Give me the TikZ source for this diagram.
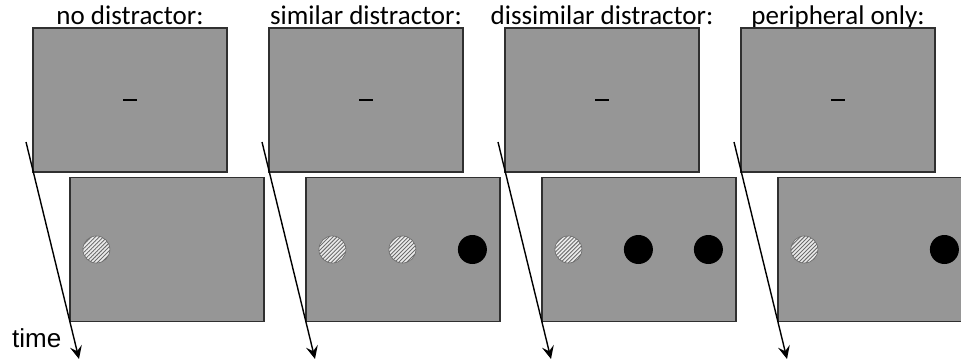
\documentclass[tikz,border=0pt]{standalone}
\usepackage{fontspec}
\setmainfont{Carlito}
\newfontfamily\timefont{Liberation Sans}
\usetikzlibrary{arrows.meta,patterns.meta,calc}
\definecolor{panelgray}{HTML}{969696}
\definecolor{edgegray}{HTML}{303030}
\tikzset{
  panel/.style={draw=edgegray, line width=1.2pt, fill=panelgray, minimum width=194pt, minimum height=144pt, inner sep=0pt, rectangle},
  header/.style={font=\fontsize{27}{30}\selectfont, anchor=base, inner sep=0pt},
  hatch/.style={circle, minimum size=27pt, inner sep=0pt, draw=gray!80!black, line width=0.6pt, fill=gray!15,
    postaction={pattern={Lines[angle=45,distance=2.8pt,line width=0.9pt]}, pattern color=gray!85!black}},
  solid dot/.style={circle, minimum size=29pt, inner sep=0pt, fill=black},
  fix/.style={line width=2pt, black},
  timearrow/.style={line width=1.4pt, -{Stealth[length=13pt,width=12pt,inset=5pt]}},
}
\begin{document}
\begin{tikzpicture}[x=1pt,y=-1pt]
\useasboundingbox (0,0) rectangle (961,364);
\clip (0,0) rectangle (961,364);
\foreach \i/\lab in {0/no distractor:,1/similar distractor:,2/dissimilar distractor:,3/peripheral only:}{
  \node[header] (h\i) at ({130+236*\i},24) {\lab};
  \node[panel] (t\i) at ({130+236*\i},100) {};
  \node[panel] (b\i) at ({167+236*\i},249.5) {};
  \draw[fix] ($(t\i.center)+(-7,0)$) -- ($(t\i.center)+(7,0)$);
  \node[hatch] (c\i a) at ($(b\i.west)+(27,0)$) {};
  \coordinate (s\i) at ({26+236*\i},142);
  \coordinate (e\i) at ({79+236*\i},359);
}
\node[hatch] (c1b) at ($(b1.west)+(97,0)$) {};
\node[solid dot] (c1c) at ($(b1.west)+(167,0)$) {};
\node[solid dot] (c2b) at ($(b2.west)+(97,0)$) {};
\node[solid dot] (c2c) at ($(b2.west)+(167,0)$) {};
\node[solid dot] (c3c) at ($(b3.west)+(167,0)$) {};
\foreach \i in {0,1,2,3}{
  \draw[timearrow] (s\i) -- (e\i);
}
\node[font=\timefont\fontsize{26}{28}\selectfont, anchor=base west, inner sep=0pt] (time) at (12,347) {time};
\end{tikzpicture}
\end{document}
